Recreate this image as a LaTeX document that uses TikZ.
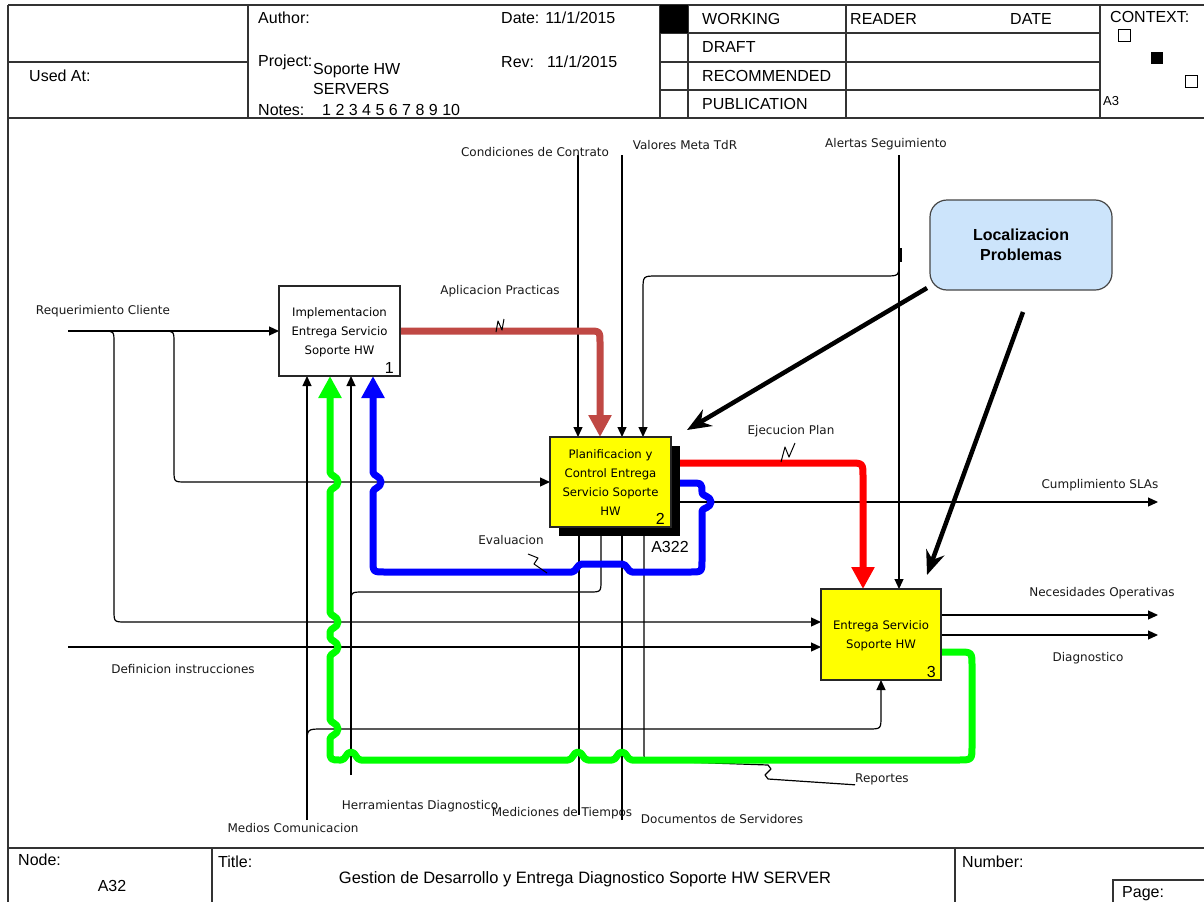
\documentclass[tikz,border=0pt]{standalone}
\usepackage{fontspec}
\setmainfont{Liberation Sans}
\newfontfamily\lblfont{DejaVu Sans}
\usetikzlibrary{arrows.meta}

\definecolor{idefyellow}{RGB}{255,255,0}
\definecolor{idefgreen}{RGB}{0,255,0}
\definecolor{idefblue}{RGB}{0,0,255}
\definecolor{idefred}{RGB}{255,0,0}
\definecolor{idefbrick}{RGB}{192,72,68}
\definecolor{notefill}{RGB}{204,228,251}
\definecolor{noteedge}{RGB}{70,70,70}

\begin{document}
\begin{tikzpicture}[x=1pt,y=-1pt,
  frameline/.style={line width=1.2pt, draw=black!80},
  hdr/.style={font=\fontsize{16}{18}\selectfont, anchor=west, inner sep=0pt},
  lbl/.style={font=\lblfont\fontsize{12}{14}\selectfont, inner sep=0pt, text=black!90},
  boxtext/.style={font=\lblfont\fontsize{11.7}{19}\selectfont, align=center, inner sep=0pt},
  actbox/.style={draw=black!85, line width=1.5pt, outer sep=0pt, inner sep=0pt},
  boxnum/.style={font=\fontsize{16}{18}\selectfont, anchor=south east, inner sep=0pt},
  wire/.style={line width=1.2pt, line join=round},
  flow/.style={wire, -{Triangle[length=10pt,width=9pt]}},
  fat/.style={line width=7pt, line join=round, -{Triangle[length=22pt,width=22pt]}},
  squig/.style={line width=1pt, line join=round},
  pointer/.style={line width=4.5pt, -{Stealth[length=24pt,width=19pt]}}
]
\useasboundingbox[fill=white] (0,0) rectangle (1204,902);

% ---------- form frame ----------
\draw[frameline] (8,5) -- (1204,5);
\draw[frameline] (8,5) -- (8,902);
\draw[frameline] (8,118) -- (1204,118);
\draw[frameline] (8,62) -- (248,62);
\draw[frameline] (248,5) -- (248,118);
\draw[frameline] (660,5) -- (660,118);
\draw[frameline] (688,5) -- (688,118);
\draw[frameline] (846,5) -- (846,118);
\draw[frameline] (1100,5) -- (1100,118);
\foreach \yy in {33,62,90} \draw[frameline] (660,\yy) -- (1100,\yy);
\fill[black] (660,5) rectangle (688,33);

\node[hdr] (usedat) at (29,76) {Used At:};
\node[hdr] (author) at (258,18) {Author:};
\node[hdr] (project) at (258,62) {Project:};
\node[hdr] (proj1) at (313,71) {Soporte HW};
\node[hdr] (proj2) at (313,89) {SERVERS};
\node[hdr] (notes) at (258,110) {Notes:};
\node[hdr] (notenums) at (322,110) {1 2 3 4 5 6 7 8 9 10};
\node[hdr] (date) at (501,18) {Date: 11/1/2015};
\node[hdr] (rev) at (501,62) {Rev:};
\node[hdr] (revdate) at (547,62) {11/1/2015};
\node[hdr] (working) at (702,19) {WORKING};
\node[hdr] (draft) at (702,47) {DRAFT};
\node[hdr] (recom) at (702,76) {RECOMMENDED};
\node[hdr] (publ) at (702,104) {PUBLICATION};
\node[hdr] (reader) at (850,19) {READER};
\node[hdr] (rdate) at (1010,19) {DATE};
\node[hdr] (context) at (1110,17) {CONTEXT:};
\node[hdr, font=\fontsize{13}{15}\selectfont] (ctxa) at (1103,101) {A3};
\draw[line width=1pt] (1118,29) rectangle (1130,41);
\fill[black] (1151,52) rectangle (1163,64);
\draw[line width=1pt] (1185,75) rectangle (1197,87);

% footer
\draw[frameline] (8,848) -- (1204,848);
\draw[frameline] (212,848) -- (212,902);
\draw[frameline] (955,848) -- (955,902);
\draw[frameline] (1113,902) -- (1113,880) -- (1204,880);
\node[hdr] (nodelbl) at (18,860) {Node:};
\node[hdr, anchor=center] (nodeval) at (112,886) {A32};
\node[hdr] (titlelbl) at (218,862) {Title:};
\node[hdr, anchor=center, font=\fontsize{16.5}{18}\selectfont] (titleval) at (585,879) {Gestion de Desarrollo y Entrega Diagnostico Soporte HW SERVER};
\node[hdr] (numlbl) at (962,862) {Number:};
\node[hdr] (pagelbl) at (1122,894) {Page:};

% ---------- activity box anchors ----------
\path (339.5,331) node[minimum width=121pt, minimum height=90pt, outer sep=0pt] (b1) {};
\path (610.5,482) node[minimum width=121pt, minimum height=90pt, outer sep=0pt] (b2) {};
\path (881,634.5) node[minimum width=120pt, minimum height=91pt, outer sep=0pt] (b3) {};

% ---------- external ends ----------
\coordinate (reqIn) at (68,331);
\coordinate (defIn) at (68,647);
\coordinate (condTop) at (578,155);
\coordinate (valTop) at (622,155);
\coordinate (alTop) at (899,155);
\coordinate (slaOut) at (1158,502);
\coordinate (necOut) at (1158,615);
\coordinate (diagOut) at (1158,635);
\coordinate (medBot) at (307,820);
\coordinate (herBot) at (351,775);
\coordinate (mtBot) at (579,815);
\coordinate (docBot) at (622,820);

% ---------- thin connectors ----------
\draw[flow] (reqIn) -- (b1.west |- reqIn);
\draw[flow] (103,331) .. controls (114,331) .. (114,343) -- (114,610)
  .. controls (114,622) .. (126,622) -- (b3.west |- 0,622);
\draw[flow] (163,331) .. controls (174,331) .. (174,343) -- (174,470)
  .. controls (174,482) .. (186,482) -- (b2.west |- 0,482);
\draw[flow] (defIn) -- (b3.west |- defIn);

\draw[flow] (condTop) -- (b2.north -| condTop);
\draw[flow] (valTop) -- (b2.north -| valTop);
\draw[flow] (alTop) -- (b3.north -| alTop);
\draw[flow] (899,262) .. controls (899,276) .. (885,276) -- (657,276)
  .. controls (643,276) .. (643,290) -- (b2.north -| 643,0);
\draw[line width=2.5pt] (900.5,248) -- (900.5,262);

\draw[flow] (680,502) -- (slaOut);
\draw[flow] (b3.east |- 0,615) -- (necOut);
\draw[flow] (b3.east |- 0,635) -- (diagOut);

\draw[flow] (medBot) -- (b1.south -| medBot);
\draw[flow] (307,745) .. controls (307,729) .. (322,729) -- (868,729)
  .. controls (881,729) .. (881,716) -- (b3.south -| 881,0);
\draw[flow] (herBot) -- (b1.south -| herBot);
\draw[wire] (351,604) .. controls (351,592) .. (363,592) -- (589,592)
  .. controls (601,592) .. (601,580) -- (b2.south -| 601,0);
\draw[wire] (mtBot) -- (b2.south -| mtBot);
\draw[wire] (docBot) -- (b2.south -| docBot);

\node[lbl, anchor=west] (rep) at (855,779) {Reportes};
\draw[wire] (b2.south -| 644,0) -- (644,752) .. controls (644,761) .. (655,761)
  -- (768,765) -- (771,769) -- (765,775) -- (768,779) -- (rep.south west);

% ---------- thick flows ----------
\draw[fat, draw=idefbrick] (b1.east |- 0,331) -- (588,331)
  .. controls (600,331) .. (600,343) -- (b2.north -| 600,0);
\draw[fat, draw=idefred] (b2.east |- 0,463) -- (849,463)
  .. controls (863,463) .. (863,477) -- (b3.north -| 863,0);
\draw[fat, draw=idefblue] (b2.east |- 0,483) -- (690,483)
  .. controls (702,483) .. (702,493)
  .. controls (702,496) and (711,496) .. (711,502)
  .. controls (711,508) and (702,508) .. (702,511)
  -- (702,560) .. controls (702,572) .. (690,572) -- (632,572)
  .. controls (628,572) and (627,564) .. (622,564) -- (582,564)
  .. controls (577,564) and (576,572) .. (572,572) -- (385,572)
  .. controls (373,572) .. (373,560) -- (373,492)
  .. controls (373,488) and (381,488) .. (381,482)
  .. controls (381,476) and (373,476) .. (373,472) -- (b1.south -| 373,0);
\draw[fat, draw=idefgreen] (b3.east |- 0,652) -- (958,652)
  .. controls (972,652) .. (972,666) -- (972,746)
  .. controls (972,760) .. (958,760) -- (632,760)
  .. controls (627,760) and (627,752) .. (622,752)
  .. controls (617,752) and (617,760) .. (612,760) -- (588,760)
  .. controls (583,760) and (583,752) .. (578,752)
  .. controls (573,752) and (573,760) .. (568,760) -- (361,760)
  .. controls (356,760) and (356,752) .. (351,752)
  .. controls (346,752) and (346,760) .. (341,760)
  .. controls (330,760) .. (330,750) -- (330,739)
  .. controls (330,735) and (338,735) .. (338,729)
  .. controls (338,723) and (330,723) .. (330,719) -- (330,657)
  .. controls (330,653) and (338,653) .. (338,647)
  .. controls (338,641) and (330,641) .. (330,637) -- (330,632)
  .. controls (330,628) and (338,628) .. (338,622)
  .. controls (338,616) and (330,616) .. (330,612) -- (330,492)
  .. controls (330,488) and (338,488) .. (338,482)
  .. controls (338,476) and (330,476) .. (330,472) -- (b1.south -| 330,0);

% ---------- label squiggles ----------
\draw[squig] (496,332) -- (498,321) -- (502,330) -- (504,319);
\draw[squig] (781,462) -- (785,447) -- (789,457) -- (795,443);
\draw[squig] (528,554) -- (538,558) -- (534,564) -- (547,573);

% ---------- activity boxes ----------
\node[actbox, fill=white, minimum width=121pt, minimum height=90pt] at (b1) {};
\node[boxtext] (t1) at (339.5,332) {Implementacion\\Entrega Servicio\\Soporte HW};
\node[boxnum] (n1) at ([xshift=-6pt,yshift=2pt]b1.south east) {1};

\fill[black] (559,446) rectangle (680,536);
\node[actbox, fill=idefyellow, minimum width=121pt, minimum height=90pt] at (b2) {};
\node[boxtext] (t2) at (610.5,483) {Planificacion y\\Control Entrega\\Servicio Soporte\\HW};
\node[boxnum] (n2) at ([xshift=-6pt,yshift=2pt]b2.south east) {2};
\node[font=\fontsize{16}{18}\selectfont, inner sep=0pt] (a322) at (670,547) {A322};

\node[actbox, fill=idefyellow, minimum width=120pt, minimum height=91pt] at (b3) {};
\node[boxtext] (t3) at (881,636) {Entrega Servicio\\Soporte HW};
\node[boxnum] (n3) at ([xshift=-5pt,yshift=2pt]b3.south east) {3};

\node[draw=noteedge, line width=1.2pt, fill=notefill, rounded corners=17pt,
  minimum width=182pt, minimum height=90pt, align=center,
  font=\bfseries\fontsize{16}{20}\selectfont] (loc) at (1021,245) {Localizacion\\Problemas};

\draw[pointer] (927,288) -- (687,430);
\draw[pointer] (1023,312) -- (927,575);

% ---------- flow labels ----------
\node[lbl] (lreq) at (103,311) {Requerimiento Cliente};
\node[lbl] (ldef) at (183,669) {Definicion instrucciones};
\node[lbl] (lcond) at (535,152) {Condiciones de Contrato};
\node[lbl] (lval) at (685,145) {Valores Meta TdR};
\node[lbl] (lal) at (886,144) {Alertas Seguimiento};
\node[lbl] (lapl) at (500,291) {Aplicacion Practicas};
\node[lbl] (leje) at (791,431) {Ejecucion Plan};
\node[lbl] (leva) at (511,540) {Evaluacion};
\node[lbl] (lsla) at (1100,485) {Cumplimiento SLAs};
\node[lbl] (lnec) at (1102,593) {Necesidades Operativas};
\node[lbl] (ldiag) at (1088,658) {Diagnostico};
\node[lbl] (lmed) at (293,828) {Medios Comunicacion};
\node[lbl] (lher) at (420,806) {Herramientas Diagnostico};
\node[lbl] (lmt) at (562,813) {Mediciones de Tiempos};
\node[lbl] (ldoc) at (722,819) {Documentos de Servidores};
\end{tikzpicture}
\end{document}
